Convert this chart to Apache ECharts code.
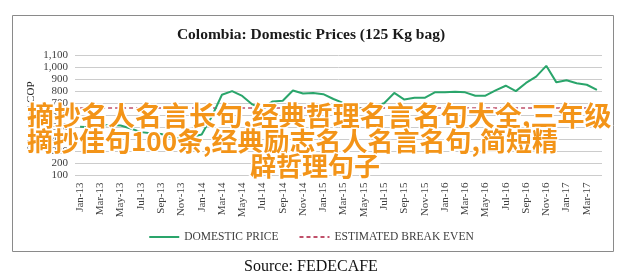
<!DOCTYPE html>
<html>
<head>
<meta charset="utf-8">
<script src="https://cdn.jsdelivr.net/npm/echarts@6/dist/echarts.min.js"></script>
<style>
html,body{margin:0;padding:0;background:#fff;}
#c{width:622px;height:277px;}
</style>
</head>
<body>
<div id="c"></div>
<script>
const months = ["Jan-13","Feb-13","Mar-13","Apr-13","May-13","Jun-13","Jul-13","Aug-13","Sep-13","Oct-13","Nov-13","Dec-13",
"Jan-14","Feb-14","Mar-14","Apr-14","May-14","Jun-14","Jul-14","Aug-14","Sep-14","Oct-14","Nov-14","Dec-14",
"Jan-15","Feb-15","Mar-15","Apr-15","May-15","Jun-15","Jul-15","Aug-15","Sep-15","Oct-15","Nov-15","Dec-15",
"Jan-16","Feb-16","Mar-16","Apr-16","May-16","Jun-16","Jul-16","Aug-16","Sep-16","Oct-16","Nov-16","Dec-16",
"Jan-17","Feb-17","Mar-17","Apr-17"];
const domesticPrice = [505,500,515,520,515,490,460,450,445,420,400,420,
440,590,770,800,760,690,655,715,720,805,780,785,
775,735,700,675,645,675,700,785,730,745,745,790,
790,795,790,762,762,806,845,800,868,920,1010,873,
890,865,853,810];
const breakEven = [660,660,660,660,660,660,660,660,660,660,660,660,
660,660,660,660,660,660,660,660,660,660,660,660,
660,660,660,660,660,660,660,660,660,660,660,660,
660,660,660,660,660,660,660,660,660,660,660,660,
660,660,660,660];
const titleText = "Colombia: Domestic Prices (125 Kg bag)";
const sourceText = "Source: FEDECAFE";
const overlayLines = ["摘抄名人名言长句,经典哲理名言名句大全,三年级","摘抄佳句100条,经典励志名人名言名句,简短精","辟哲理句子"];

const serif = "'Liberation Serif','Times New Roman',serif";
const chart = echarts.init(document.getElementById('c'));
const overlayStyle = (t, fs) => ({text:t, fill:'#F39418', stroke:'#fff', lineWidth:3,
  font:"bold " + fs + "px 'Noto Sans CJK SC'", textVerticalAlign:'middle'});
chart.setOption({
  animation:false,
  title:{text:titleText, left:'center', top:22,
    textStyle:{fontFamily:serif, fontSize:15.5, fontWeight:'bold', color:'#1a1a1a'}},
  grid:{left:75, right:20, top:55, bottom:101.5},
  legend:{bottom:29, left:'center', itemWidth:30, itemHeight:10, itemGap:20,
    itemStyle:{opacity:0},
    textStyle:{fontFamily:serif, fontSize:11.5, color:'#404040'},
    data:['DOMESTIC PRICE','ESTIMATED BREAK EVEN']},
  xAxis:{type:'category', data:months, boundaryGap:true,
    axisLine:{show:false}, axisTick:{show:false},
    axisLabel:{interval:1, rotate:90, margin:7, fontFamily:serif, fontSize:11, color:'#404040'}},
  yAxis:{type:'value', min:100, max:1100, interval:100,
    name:'Thousand COP', nameLocation:'middle', nameGap:38, nameRotate:90, nameMoveOverlap:false,
    nameTextStyle:{fontFamily:serif, fontSize:11, color:'#222'},
    axisLine:{show:false}, axisTick:{show:false},
    axisLabel:{fontFamily:serif, fontSize:11, color:'#404040', margin:7,
      formatter:v=>v.toLocaleString('en-US')},
    splitLine:{lineStyle:{color:'#cccccc', width:1}}},
  series:[
    {name:'DOMESTIC PRICE', type:'line', data:domesticPrice, symbol:'none',
      lineStyle:{color:'#2AA56B', width:2}, itemStyle:{color:'#2AA56B'}, z:3},
    {name:'ESTIMATED BREAK EVEN', type:'line', data:breakEven, symbol:'none',
      lineStyle:{color:'#C0506A', width:1.5, type:[4,3]}, itemStyle:{color:'#C0506A'}, z:2}
  ],
  graphic:[
    {type:'rect', shape:{x:12.5, y:15.5, width:601, height:236}, style:{fill:null, stroke:'#8a8a8a', lineWidth:1}, z:-1, silent:true},
    {type:'text', left:'center', top:259, style:{text:sourceText, font:"16px "+serif, fill:'#111'}},
    {type:'text', x:27, y:116, z:100, style:overlayStyle(overlayLines[0], 27)},
    {type:'text', x:27, y:141, z:100, style:overlayStyle(overlayLines[1], 26)},
    {type:'text', x:250, y:166, z:100, style:overlayStyle(overlayLines[2], 26)}
  ]
});
</script>
</body>
</html>
